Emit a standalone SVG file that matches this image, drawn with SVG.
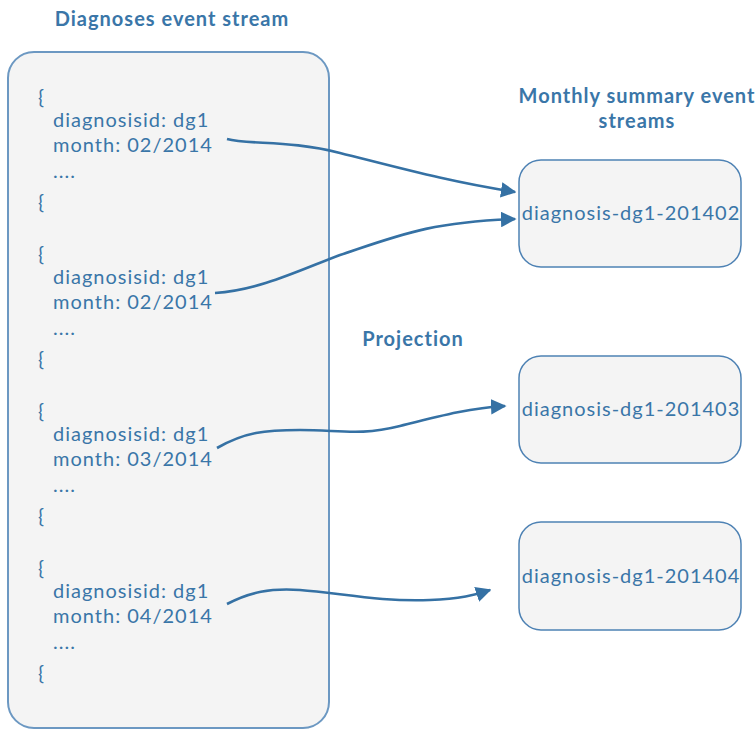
<svg xmlns="http://www.w3.org/2000/svg" width="756" height="729" viewBox="0 0 756 729">
<defs>
<style>
.t{font-family:Lato,"Open Sans","DejaVu Sans",sans-serif;fill:#3a76a8;letter-spacing:1px;}
.h{font-size:20px;font-weight:bold;}
.c{font-size:20px;}
.box{fill:#f4f4f4;stroke:#4e82b4;stroke-width:1.5;}
.big{fill:#f4f4f4;stroke:#6c98c2;stroke-width:2;}
.conn{fill:none;stroke:#3571a4;stroke-width:2.6;}
</style>
<marker id="ah" viewBox="0 0 10 10" refX="9" refY="5" markerWidth="6" markerHeight="6" markerUnits="strokeWidth" orient="auto">
<path d="M0,0 L10,5 L0,10 z" fill="#3571a4"/>
</marker>
</defs>
<rect width="756" height="729" fill="#ffffff"/>
<text class="t h" x="172" y="26" text-anchor="middle">Diagnoses event stream</text>
<text class="t h" x="637" y="103" text-anchor="middle">Monthly summary event</text>
<text class="t h" x="637" y="128" text-anchor="middle">streams</text>
<text class="t h" x="413" y="346" text-anchor="middle">Projection</text>

<g id="stream">
<rect class="big" x="8" y="52" width="321" height="676" rx="26"/>
<g class="t c">
<text x="38" y="104">{</text>
<text x="53" y="127">diagnosisid: dg1</text>
<text x="53" y="152">month: 02/2014</text>
<text x="53" y="178">....</text>
<text x="38" y="209">{</text>

<text x="38" y="261">{</text>
<text x="53" y="284">diagnosisid: dg1</text>
<text x="53" y="309">month: 02/2014</text>
<text x="53" y="335">....</text>
<text x="38" y="366">{</text>

<text x="38" y="418">{</text>
<text x="53" y="441">diagnosisid: dg1</text>
<text x="53" y="466">month: 03/2014</text>
<text x="53" y="492">....</text>
<text x="38" y="523">{</text>

<text x="38" y="575">{</text>
<text x="53" y="598">diagnosisid: dg1</text>
<text x="53" y="623">month: 04/2014</text>
<text x="53" y="649">....</text>
<text x="38" y="680">{</text>
</g>
</g>

<g id="n201402">
<rect class="box" x="519" y="160" width="222" height="107" rx="22"/>
<text class="t c" x="631" y="220" text-anchor="middle">diagnosis-dg1-201402</text>
</g>
<g id="n201403">
<rect class="box" x="519" y="356" width="222" height="107" rx="22"/>
<text class="t c" x="631" y="416" text-anchor="middle">diagnosis-dg1-201403</text>
</g>
<g id="n201404">
<rect class="box" x="519" y="522" width="222" height="108" rx="22"/>
<text class="t c" x="631" y="583" text-anchor="middle">diagnosis-dg1-201404</text>
</g>

<g id="connectors">
<path class="conn" marker-end="url(#ah)" d="M227,139 C250,145 290,140 340,153 C400,168 450,182 515,192"/>
<path class="conn" marker-end="url(#ah)" d="M215,293 C260,290 300,270 340,255 C400,235 430,222 515,219"/>
<path class="conn" marker-end="url(#ah)" d="M217,448 C245,432 265,430 300,430 C340,430 360,436 400,426 C440,416 470,408 505,406"/>
<path class="conn" marker-end="url(#ah)" d="M227,604 C250,592 270,588 300,590 C340,593 380,602 430,600 C460,599 475,595 490,590"/>
</g>
</svg>
